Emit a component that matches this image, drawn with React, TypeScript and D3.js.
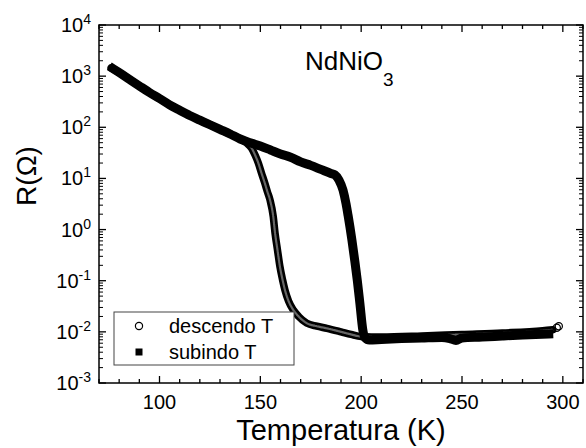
import React from "react";
import * as d3 from "d3";

// descendo T (open circles)
const descT = [76, 80, 85, 90, 95, 100, 105, 110, 115, 120, 125, 130, 135, 140, 143, 145.7, 147.5, 149, 150.5, 152.3, 153.5, 154.8, 156.4, 157.3, 158.5, 159.7, 161, 162.2, 164, 166.3, 169, 173, 178, 183, 190, 195, 200, 210, 230, 250, 270, 290, 295];
const descR = [1450, 1175, 870, 645, 480, 365, 275, 215, 170, 138, 112, 91, 74, 59, 50, 39, 28, 20, 13, 7.9, 5.5, 3.8, 1.8, 0.85, 0.4, 0.19, 0.105, 0.066, 0.04, 0.027, 0.02, 0.0148, 0.0129, 0.0117, 0.01, 0.0089, 0.0081, 0.0079, 0.0083, 0.0089, 0.0095, 0.0105, 0.011];
// isolated end points of descendo T
const descEndT = [297, 298];
const descEndR = [0.012, 0.0129];

// subindo T (filled squares)
const subT = [77, 80, 85, 90, 95, 100, 105, 110, 115, 120, 125, 130, 135, 140, 145, 150, 155, 160, 165, 170, 175, 180, 185, 187, 189, 191, 192.5, 193.5, 195.4, 196.8, 198.1, 199.4, 200.8, 202, 204, 210, 220, 230, 240, 244, 247, 250, 260, 270, 280, 293];
const subR = [1400, 1175, 870, 645, 480, 365, 275, 215, 170, 138, 112, 91, 74, 59, 50, 43, 36, 30, 26, 21, 18, 15, 12.5, 11.7, 9.3, 5.9, 3.2, 1.9, 0.63, 0.25, 0.1, 0.035, 0.011, 0.0076, 0.0069, 0.0071, 0.0074, 0.0076, 0.0078, 0.0074, 0.0068, 0.0076, 0.0079, 0.0083, 0.0087, 0.0091];

const xMajorTicks = [100, 150, 200, 250, 300];
const yExponents = [-3, -2, -1, 0, 1, 2, 3, 4];
const legendLabels = ["descendo T", "subindo T"];
const titleMain = "NdNiO";
const titleSub = "3";
const xTitle = "Temperatura (K)";
const yTitle = "R(Ω)";

const W = 586, H = 448;
const L = 99, R = 583, T = 25, B = 383;
const FONT = "'Liberation Sans', Arial, sans-serif";

export default function App() {
  const x = d3.scaleLinear().domain([70, 310]).range([L, R]);
  const y = d3.scaleLog().domain([1e-3, 1e4]).range([B, T]);

  const desc = descT.map((t, i) => [t, descR[i]] as [number, number]);
  const sub = subT.map((t, i) => [t, subR[i]] as [number, number]);
  const line = d3.line<[number, number]>().x(d => x(d[0])).y(d => y(d[1])).curve(d3.curveMonotoneX);

  const xMinor = d3.range(70, 311, 10).filter(v => !xMajorTicks.includes(v));
  const yMinor: number[] = [];
  for (let e = -3; e < 4; e++) for (let k = 2; k <= 9; k++) yMinor.push(k * Math.pow(10, e));

  const maj = 7, min = 4;

  return (
    <div style={{ position: "absolute", left: 0, top: 0 }}>
      <svg width={W} height={H} style={{ display: "block", background: "#fff" }} fontFamily={FONT}>
        <defs>
          <clipPath id="plot"><rect x={L} y={T} width={R - L} height={B - T} /></clipPath>
        </defs>
        <g clipPath="url(#plot)">
          <path d={line(desc) || ""} fill="none" stroke="#000" strokeWidth={7.5} strokeLinecap="round" strokeLinejoin="round" />
          <path d={line(desc) || ""} fill="none" stroke="#666" strokeWidth={2.2} strokeLinecap="round" strokeLinejoin="round" strokeDasharray="1.2 0.8" />
          <path d={line(sub) || ""} fill="none" stroke="#000" strokeWidth={9} strokeLinecap="square" strokeLinejoin="round" />
          {descEndT.map((t, i) => (
            <circle key={i} cx={x(t)} cy={y(descEndR[i])} r={3.6} fill="none" stroke="#000" strokeWidth={1.2} />
          ))}
        </g>
        {/* frame */}
        <rect x={L} y={T} width={R - L} height={B - T} fill="none" stroke="#000" strokeWidth={1.5} />
        {/* x ticks */}
        {xMajorTicks.map(v => (
          <g key={"xm" + v}>
            <line x1={x(v)} x2={x(v)} y1={B} y2={B - maj} stroke="#000" strokeWidth={1.3} />
            <line x1={x(v)} x2={x(v)} y1={T} y2={T + maj} stroke="#000" strokeWidth={1.3} />
            <text x={x(v)} y={409} textAnchor="middle" fontSize={20}>{v}</text>
          </g>
        ))}
        {xMinor.map(v => (
          <g key={"xn" + v}>
            <line x1={x(v)} x2={x(v)} y1={B} y2={B - min} stroke="#000" strokeWidth={1.3} />
            <line x1={x(v)} x2={x(v)} y1={T} y2={T + min} stroke="#000" strokeWidth={1.3} />
          </g>
        ))}
        {/* y ticks */}
        {yExponents.map(e => {
          const yy = y(Math.pow(10, e));
          return (
            <g key={"ym" + e}>
              <line x1={L} x2={L + maj} y1={yy} y2={yy} stroke="#000" strokeWidth={1.3} />
              <line x1={R} x2={R - maj} y1={yy} y2={yy} stroke="#000" strokeWidth={1.3} />
              <text x={91} y={yy + 7} textAnchor="end" fontSize={20}>
                <tspan>10</tspan>
                <tspan fontSize={14} dy={-8}>{e < 0 ? "-" + Math.abs(e) : String(e)}</tspan>
              </text>
            </g>
          );
        })}
        {yMinor.map((v, i) => (
          <g key={"yn" + i}>
            <line x1={L} x2={L + min} y1={y(v)} y2={y(v)} stroke="#000" strokeWidth={1} />
            <line x1={R} x2={R - min} y1={y(v)} y2={y(v)} stroke="#000" strokeWidth={1} />
          </g>
        ))}
        {/* title */}
        <text x={305} y={70} fontSize={26}>
          <tspan>{titleMain}</tspan>
          <tspan fontSize={19} dy={16}>{titleSub}</tspan>
        </text>
        {/* axis titles */}
        <text x={(L + R) / 2} y={440} textAnchor="middle" fontSize={29}>{xTitle}</text>
        <text transform={`translate(36, 176) rotate(-90)`} textAnchor="middle" fontSize={28}>{yTitle}</text>
        {/* legend */}
        <rect x={114} y={312} width={180} height={53} fill="#fff" stroke="#444" strokeWidth={1} />
        <circle cx={139} cy={326} r={3.6} fill="none" stroke="#000" strokeWidth={1.2} />
        <rect x={135.5} y={348.5} width={7} height={7} fill="#000" />
        <text x={169} y={333} fontSize={20}>{legendLabels[0]}</text>
        <text x={169} y={359} fontSize={20}>{legendLabels[1]}</text>
      </svg>
    </div>
  );
}
